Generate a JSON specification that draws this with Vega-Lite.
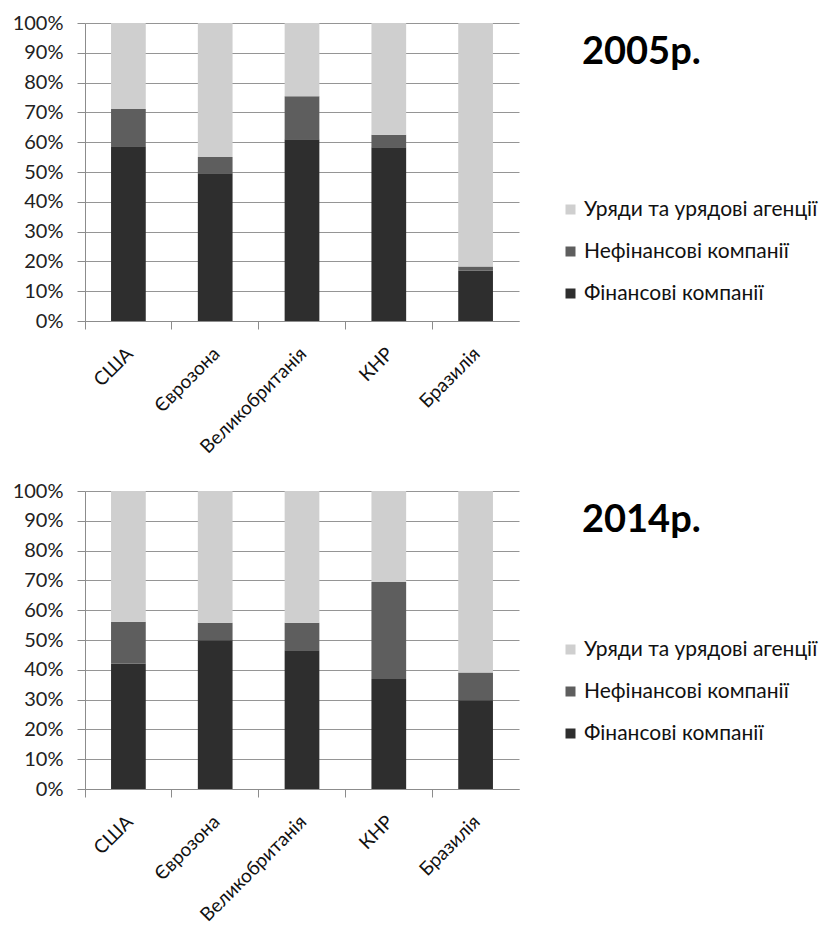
{
  "$schema": "https://vega.github.io/schema/vega-lite/v6.json",
  "background": "white",
  "padding": {"left": 12, "top": 13, "right": 5, "bottom": 5},
  "config": {
    "font": "Lato",
    "view": {"stroke": null},
    "axis": {"domainColor": "#8c8c8c", "tickColor": "#8c8c8c", "gridColor": "#959595", "labelColor": "#222222", "titleColor": "#222222"},
    "legend": {"orient": "none", "legendX": 475, "labelFontSize": 21, "labelColor": "#111111", "symbolType": "square", "symbolSize": 100, "symbolStrokeWidth": 0, "rowPadding": 20, "labelOffset": 3, "title": null, "labelLimit": 400}
  },
  "data": {"values": [
    {"year": "2005", "country": "США", "category": "Фінансові компанії", "share": 58.6},
    {"year": "2005", "country": "США", "category": "Нефінансові компанії", "share": 12.5},
    {"year": "2005", "country": "США", "category": "Уряди та урядові агенції", "share": 28.9},
    {"year": "2005", "country": "Єврозона", "category": "Фінансові компанії", "share": 49.6},
    {"year": "2005", "country": "Єврозона", "category": "Нефінансові компанії", "share": 5.4},
    {"year": "2005", "country": "Єврозона", "category": "Уряди та урядові агенції", "share": 45.0},
    {"year": "2005", "country": "Великобританія", "category": "Фінансові компанії", "share": 61.0},
    {"year": "2005", "country": "Великобританія", "category": "Нефінансові компанії", "share": 14.4},
    {"year": "2005", "country": "Великобританія", "category": "Уряди та урядові агенції", "share": 24.6},
    {"year": "2005", "country": "КНР", "category": "Фінансові компанії", "share": 58.3},
    {"year": "2005", "country": "КНР", "category": "Нефінансові компанії", "share": 4.2},
    {"year": "2005", "country": "КНР", "category": "Уряди та урядові агенції", "share": 37.5},
    {"year": "2005", "country": "Бразилія", "category": "Фінансові компанії", "share": 16.9},
    {"year": "2005", "country": "Бразилія", "category": "Нефінансові компанії", "share": 1.4},
    {"year": "2005", "country": "Бразилія", "category": "Уряди та урядові агенції", "share": 81.7},
    {"year": "2014", "country": "США", "category": "Фінансові компанії", "share": 42.1},
    {"year": "2014", "country": "США", "category": "Нефінансові компанії", "share": 14.0},
    {"year": "2014", "country": "США", "category": "Уряди та урядові агенції", "share": 43.9},
    {"year": "2014", "country": "Єврозона", "category": "Фінансові компанії", "share": 49.9},
    {"year": "2014", "country": "Єврозона", "category": "Нефінансові компанії", "share": 5.9},
    {"year": "2014", "country": "Єврозона", "category": "Уряди та урядові агенції", "share": 44.2},
    {"year": "2014", "country": "Великобританія", "category": "Фінансові компанії", "share": 46.6},
    {"year": "2014", "country": "Великобританія", "category": "Нефінансові компанії", "share": 9.2},
    {"year": "2014", "country": "Великобританія", "category": "Уряди та урядові агенції", "share": 44.2},
    {"year": "2014", "country": "КНР", "category": "Фінансові компанії", "share": 36.9},
    {"year": "2014", "country": "КНР", "category": "Нефінансові компанії", "share": 32.6},
    {"year": "2014", "country": "КНР", "category": "Уряди та урядові агенції", "share": 30.5},
    {"year": "2014", "country": "Бразилія", "category": "Фінансові компанії", "share": 29.8},
    {"year": "2014", "country": "Бразилія", "category": "Нефінансові компанії", "share": 9.3},
    {"year": "2014", "country": "Бразилія", "category": "Уряди та урядові агенції", "share": 60.9}
  ]},
  "transform": [{"calculate": "indexof(['Фінансові компанії', 'Нефінансові компанії', 'Уряди та урядові агенції'], datum.category)", "as": "stackOrder"}],
  "spacing": 24,
  "resolve": {"scale": {"color": "independent"}, "legend": {"color": "independent"}},
  "vconcat": [
    {
      "width": 434,
      "height": 298,
      "transform": [{"filter": "datum.year == '2005'"}],
      "title": {"text": "2005р.", "anchor": "start", "frame": "group", "dx": 497, "dy": 93, "baseline": "alphabetic", "fontSize": 38, "fontWeight": "bold", "font": "Lato", "color": "#000000"},
      "mark": {"type": "bar", "width": {"band": 0.4}},
      "encoding": {
        "x": {"field": "country", "type": "nominal", "sort": null, "scale": {"paddingInner": 0, "paddingOuter": 0},
              "axis": {"title": null, "labelAngle": -45, "bandPosition": 0, "labelOffset": -5, "tickSize": 8, "labelPadding": 15, "labelFontSize": 19, "labelColor": "#111111", "grid": false}},
        "y": {"field": "share", "type": "quantitative", "stack": "normalize", "scale": {"domain": [0, 1]},
              "axis": {"title": null, "format": ".0%", "values": [0, 0.1, 0.2, 0.3, 0.4, 0.5, 0.6, 0.7, 0.8, 0.9, 1], "tickSize": 8, "labelPadding": 14, "labelFontSize": 20, "grid": true}},
        "order": {"field": "stackOrder", "type": "quantitative", "sort": "ascending"},
        "color": {"field": "category", "type": "nominal",
                  "scale": {"domain": ["Уряди та урядові агенції", "Нефінансові компанії", "Фінансові компанії"], "range": ["#cfcfcf", "#5e5e5e", "#2e2e2e"]},
                  "legend": {"legendY": 176}}
      }
    },
    {
      "width": 434,
      "height": 298,
      "transform": [{"filter": "datum.year == '2014'"}],
      "title": {"text": "2014р.", "anchor": "start", "frame": "group", "dx": 497, "dy": 93, "baseline": "alphabetic", "fontSize": 38, "fontWeight": "bold", "font": "Lato", "color": "#000000"},
      "mark": {"type": "bar", "width": {"band": 0.4}},
      "encoding": {
        "x": {"field": "country", "type": "nominal", "sort": null, "scale": {"paddingInner": 0, "paddingOuter": 0},
              "axis": {"title": null, "labelAngle": -45, "bandPosition": 0, "labelOffset": -5, "tickSize": 8, "labelPadding": 15, "labelFontSize": 19, "labelColor": "#111111", "grid": false}},
        "y": {"field": "share", "type": "quantitative", "stack": "normalize", "scale": {"domain": [0, 1]},
              "axis": {"title": null, "format": ".0%", "values": [0, 0.1, 0.2, 0.3, 0.4, 0.5, 0.6, 0.7, 0.8, 0.9, 1], "tickSize": 8, "labelPadding": 14, "labelFontSize": 20, "grid": true}},
        "order": {"field": "stackOrder", "type": "quantitative", "sort": "ascending"},
        "color": {"field": "category", "type": "nominal",
                  "scale": {"domain": ["Уряди та урядові агенції", "Нефінансові компанії", "Фінансові компанії"], "range": ["#cfcfcf", "#5e5e5e", "#2e2e2e"]},
                  "legend": {"legendY": 148}}
      }
    }
  ]
}
